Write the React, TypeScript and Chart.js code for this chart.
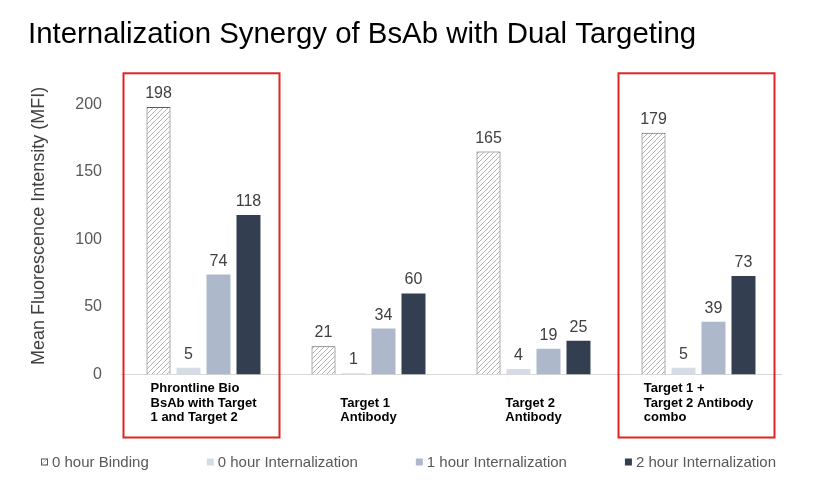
import React, { useEffect, useRef } from "react";
import { Chart, registerables } from "chart.js";

Chart.register(...registerables);

const FONT = "'Liberation Sans', Arial, sans-serif";

// categories (multi-line labels under each group)
const categories: string[][] = [
  ["Phrontline Bio", "BsAb with Target", "1 and Target 2"],
  ["Target 1", "Antibody"],
  ["Target 2", "Antibody"],
  ["Target 1 +", "Target 2 Antibody", "combo"],
];

const seriesNames = [
  "0 hour Binding",
  "0 hour Internalization",
  "1 hour Internalization",
  "2 hour Internalization",
];

const binding0h = [198, 21, 165, 179];
const internal0h = [5, 1, 4, 5];
const internal1h = [74, 34, 19, 39];
const internal2h = [118, 60, 25, 73];

const yTicks = [0, 50, 100, 150, 200];
const highlighted = [0, 3];

function makeHatch(): CanvasPattern | string {
  const c = document.createElement("canvas");
  c.width = 5;
  c.height = 5;
  const ctx = c.getContext("2d");
  if (!ctx) return "#ffffff";
  ctx.fillStyle = "#ffffff";
  ctx.fillRect(0, 0, 5, 5);
  ctx.strokeStyle = "#b4b4b4";
  ctx.lineWidth = 1;
  ctx.beginPath();
  ctx.moveTo(0, 5);
  ctx.lineTo(5, 0);
  ctx.moveTo(-1, 1);
  ctx.lineTo(1, -1);
  ctx.moveTo(4, 6);
  ctx.lineTo(6, 4);
  ctx.stroke();
  return ctx.createPattern(c, "repeat") || "#ffffff";
}

const valueLabels = {
  id: "valueLabels",
  afterDatasetsDraw(chart: any) {
    const { ctx } = chart;
    ctx.save();
    ctx.font = `16px ${FONT}`;
    ctx.fillStyle = "#404040";
    ctx.textAlign = "center";
    ctx.textBaseline = "alphabetic";
    chart.data.datasets.forEach((ds: any, i: number) => {
      const meta = chart.getDatasetMeta(i);
      meta.data.forEach((bar: any, j: number) => {
        ctx.fillText(String(ds.data[j]), bar.x, bar.y - 9);
      });
    });
    ctx.restore();
  },
};

const categoryLabels = {
  id: "categoryLabels",
  afterDraw(chart: any) {
    const { ctx, chartArea } = chart;
    const xScale = chart.scales.x;
    ctx.save();
    ctx.font = `bold 13px ${FONT}`;
    ctx.fillStyle = "#000000";
    ctx.textAlign = "left";
    ctx.textBaseline = "middle";
    const lh = 14.5;
    (chart.data.labels as string[][]).forEach((lines, i) => {
      const cx = xScale.getPixelForValue(i);
      const w = Math.max(...lines.map((l) => ctx.measureText(l).width));
      const left = cx - w / 2;
      const lastY = chartArea.bottom + 43;
      lines.forEach((l, k) => {
        ctx.fillText(l, left, lastY - (lines.length - 1 - k) * lh);
      });
    });
    ctx.restore();
  },
};

const highlightBoxes = {
  id: "highlightBoxes",
  afterDraw(chart: any) {
    const { ctx, chartArea } = chart;
    const xScale = chart.scales.x;
    ctx.save();
    ctx.strokeStyle = "#e02424";
    ctx.lineWidth = 2;
    highlighted.forEach((i) => {
      const cx = xScale.getPixelForValue(i);
      const x0 = cx - 80;
      const x1 = cx + 76;
      const y0 = chartArea.top - 4;
      const y1 = chartArea.bottom + 63;
      ctx.strokeRect(x0, y0, x1 - x0, y1 - y0);
    });
    ctx.restore();
  },
};

// legend drawn along the bottom, items spaced like the original slide
const bottomLegend = {
  id: "bottomLegend",
  afterDraw(chart: any) {
    const { ctx, width } = chart;
    const box = 7;
    const gapText = 4;
    const gapItem = 58;
    const y = chart.height - 18;
    ctx.save();
    ctx.font = `15px ${FONT}`;
    ctx.textBaseline = "middle";
    ctx.textAlign = "left";
    const items = chart.data.datasets.map((ds: any) => ({
      ds,
      w: box + gapText + ctx.measureText(ds.label).width,
    }));
    const total =
      items.reduce((s: number, it: any) => s + it.w, 0) +
      gapItem * (items.length - 1);
    let x = (width + 16) / 2 - total / 2 - 6;
    items.forEach((it: any) => {
      ctx.fillStyle = it.ds.backgroundColor;
      ctx.fillRect(x, y - box / 2, box, box);
      if (it.ds.borderWidth) {
        ctx.strokeStyle = it.ds.borderColor;
        ctx.lineWidth = 1;
        ctx.strokeRect(x + 0.5, y - box / 2 + 0.5, box - 1, box - 1);
      }
      ctx.fillStyle = "#595959";
      ctx.fillText(it.ds.label, x + box + gapText, y + 1);
      x += it.w + gapItem;
    });
    ctx.restore();
  },
};

const App: React.FC = () => {
  const canvasRef = useRef<HTMLCanvasElement | null>(null);
  const chartRef = useRef<Chart | null>(null);

  useEffect(() => {
    if (!canvasRef.current) return;
    const hatch = makeHatch();

    chartRef.current = new Chart(canvasRef.current, {
      type: "bar",
      data: {
        labels: categories,
        datasets: [
          {
            label: seriesNames[0],
            data: binding0h,
            backgroundColor: hatch as any,
            borderColor: "#595959",
            borderWidth: 1,
          },
          {
            label: seriesNames[1],
            data: internal0h,
            backgroundColor: "#d6dce5",
            borderWidth: 0,
          },
          {
            label: seriesNames[2],
            data: internal1h,
            backgroundColor: "#adb9ca",
            borderWidth: 0,
          },
          {
            label: seriesNames[3],
            data: internal2h,
            backgroundColor: "#333f50",
            borderWidth: 0,
          },
        ],
      },
      options: {
        animation: false,
        responsive: true,
        maintainAspectRatio: false,
        datasets: {
          bar: {
            categoryPercentage: 0.727,
            barPercentage: 0.8,
          },
        },
        layout: {
          padding: { left: 20, right: 24, top: 0, bottom: 81.5 },
        },
        plugins: {
          title: {
            display: true,
            text: "Internalization Synergy of BsAb with Dual Targeting",
            align: "start",
            color: "#000000",
            font: { family: FONT, size: 29.4, weight: "normal" },
            padding: { top: 9, bottom: 25 },
          },
          legend: { display: false },
          tooltip: { enabled: false },
        },
        scales: {
          x: {
            grid: { display: false, drawTicks: false },
            border: { display: true, color: "#d9d9d9", width: 1 },
            ticks: { display: false },
            afterFit: (scale: any) => {
              scale.height = 24;
            },
          },
          y: {
            min: 0,
            max: 220,
            grid: { display: false, drawTicks: false },
            border: { display: false },
            afterBuildTicks: (scale: any) => {
              scale.ticks = yTicks.map((v) => ({ value: v }));
            },
            ticks: {
              color: "#595959",
              font: { family: FONT, size: 16 },
              padding: 19,
            },
            title: {
              display: true,
              text: "Mean Fluorescence Intensity (MFI)",
              color: "#404040",
              font: { family: FONT, size: 18 },
              padding: 0,
            },
            afterFit: (scale: any) => {
              scale.width = 93;
            },
          },
        },
      },
      plugins: [valueLabels, categoryLabels, highlightBoxes, bottomLegend],
    });

    return () => {
      chartRef.current?.destroy();
      chartRef.current = null;
    };
  }, []);

  return (
    <div style={{ position: "relative", width: "797px", height: "472px" }}>
      <canvas ref={canvasRef} />
    </div>
  );
};

export default App;
